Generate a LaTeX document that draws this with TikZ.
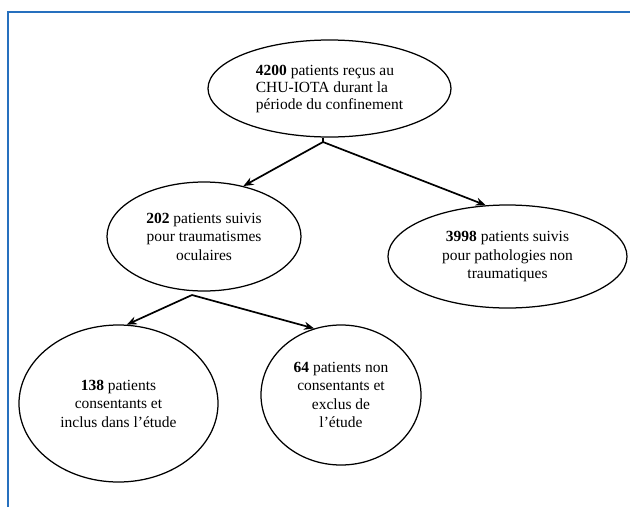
\documentclass[tikz,border=0pt]{standalone}
\usepackage{fontspec}
\setmainfont{Liberation Serif}
\definecolor{frameblue}{RGB}{38, 112, 190}
\usepackage{tikz}
\usetikzlibrary{shapes.geometric, arrows.meta, positioning}

\begin{document}
\begin{tikzpicture}[
  x=1pt, y=-1pt,
  ebox/.style={draw, ellipse, inner sep=0pt, align=center, line width=1.25pt, font=\fontsize{15.5}{18.5}\selectfont},
  flow/.style={-{Stealth[length=10pt, width=8pt]}, line width=1.7pt}
]
  \useasboundingbox (0, 0) rectangle (630, 507);
  \draw[frameblue, line width=2.5pt] (8, 507) -- (8, 12) -- (630, 12);

  \node[ebox, align=left, minimum width=243, minimum height=97,
        font=\fontsize{15.5}{17}\selectfont] (total) at (329.5, 88.5) {
    \textbf{4200} patients reçus au\\
    CHU-IOTA durant la\\
    période du confinement
  };
  \node[ebox, minimum width=194, minimum height=109] (trauma) at (204, 236.5) {
    \textbf{202} patients suivis\\
    pour traumatismes\\
    oculaires
  };
  \node[ebox, minimum width=239, minimum height=103] (nontrauma) at (507.5, 256.5) {
    \textbf{3998} patients suivis\\
    pour pathologies non\\
    traumatiques
  };
  \node[ebox, minimum width=199, minimum height=157] (inclus) at (118.5, 403.5) {
    \textbf{138} patients\\
    consentants et\\
    inclus dans l’étude
  };
  \node[ebox, minimum width=160, minimum height=140] (exclus) at (341, 395) {
    \textbf{64} patients non\\
    consentants et\\
    exclus de\\
    l’étude
  };

  \coordinate (split1) at (323, 142);
  \coordinate (split2) at (192, 295);

  \draw[line width=1.7pt] (total.south) ++(-6.5, 0) -- (split1);
  \draw[flow] (split1) -- (trauma.52);
  \draw[flow] (split1) -- (nontrauma.113);
  \draw[flow] (split2) -- (inclus.84);
  \draw[flow] (split2) -- (exclus.112);
\end{tikzpicture}
\end{document}
